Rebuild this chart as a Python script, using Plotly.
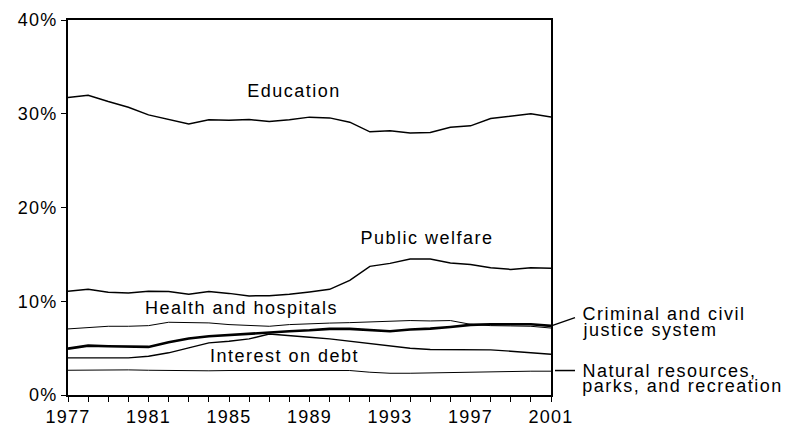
import plotly.graph_objects as go

years = list(range(1977, 2002))
tick_labels = [str(y) if (y - 1977) % 4 == 0 else "" for y in years]

education = [31.72, 31.98, 31.30, 30.70, 29.88, 29.42, 28.92, 29.35, 29.32, 29.38,
             29.17, 29.35, 29.64, 29.56, 29.10, 28.07, 28.18, 27.96, 28.00, 28.57,
             28.71, 29.49, 29.74, 29.99, 29.64]
public_welfare = [11.06, 11.27, 10.95, 10.89, 11.06, 11.03, 10.74, 11.03, 10.84, 10.57,
                  10.60, 10.74, 10.99, 11.27, 12.23, 13.72, 14.04, 14.51, 14.51, 14.08,
                  13.93, 13.58, 13.40, 13.58, 13.51]
health_hospitals = [7.05, 7.16, 7.33, 7.33, 7.40, 7.76, 7.69, 7.69, 7.51, 7.44,
                    7.33, 7.51, 7.62, 7.67, 7.72, 7.80, 7.83, 7.94, 7.90, 7.94,
                    7.54, 7.40, 7.37, 7.33, 7.14]
criminal_justice = [4.95, 5.27, 5.20, 5.17, 5.13, 5.62, 6.02, 6.26, 6.41, 6.52,
                    6.63, 6.80, 6.90, 7.05, 7.05, 6.92, 6.80, 6.98, 7.08, 7.26,
                    7.48, 7.54, 7.58, 7.54, 7.37]
interest_debt = [3.96, 3.96, 3.96, 3.96, 4.13, 4.50, 5.03, 5.56, 5.73, 5.99,
                 6.50, 6.37, 6.16, 5.99, 5.73, 5.52, 5.24, 4.99, 4.85, 4.85,
                 4.85, 4.81, 4.67, 4.53, 4.35]
natural_resources = [2.64, 2.68, 2.72, 2.68, 2.64, 2.61, 2.61, 2.58, 2.61, 2.61,
                     2.61, 2.61, 2.64, 2.64, 2.61, 2.43, 2.32, 2.32, 2.36, 2.40,
                     2.47, 2.54, 2.50, 2.54, 2.54]

y_ticks = [0, 10, 20, 30, 40]
y_tick_labels = ["0%", "10%", "20%", "30%", "40%"]

FONT = "Liberation Sans, Arial, sans-serif"
ANN_SPACING = 1.5  # px letter spacing applied via CSS

series = [
    ("Education", education, 1.5),
    ("Public welfare", public_welfare, 1.5),
    ("Health and hospitals", health_hospitals, 1.0),
    ("Criminal and civil justice system", criminal_justice, 2.6),
    ("Interest on debt", interest_debt, 1.4),
    ("Natural resources, parks, and recreation", natural_resources, 1.0),
]

fig = go.Figure()
for name, vals, w in series:
    fig.add_trace(go.Scatter(x=years, y=vals, mode="lines", name=name,
                             line=dict(color="black", width=w),
                             hoverinfo="skip"))

ann_font = dict(family=FONT, size=18, color="black")

def px2year(px):
    return 1977 + (px - 68) / 20.125

def px2val(py):
    return (395.5 - py) / 9.3875

annotations = [
    dict(text="Education", x=px2year(294), y=px2val(91.5), xref="x", yref="y"),
    dict(text="Public welfare", x=px2year(427), y=px2val(238.5), xref="x", yref="y"),
    dict(text="Health and hospitals", x=px2year(241.5), y=px2val(308.5), xref="x", yref="y"),
    dict(text="Interest on debt", x=px2year(284), y=px2val(356.5), xref="x", yref="y"),
]
for a in annotations:
    a.update(showarrow=False, font=ann_font, xanchor="center", yanchor="middle")

right_labels = [
    ("Criminal and civil", 314.5),
    ("justice system", 330),
    ("Natural resources,", 371),
    ("parks, and recreation", 386.5),
]
for txt, py in right_labels:
    # compensate the CSS letter spacing (text is centred inside its box)
    left_px = 580 + len(txt) * ANN_SPACING / 2
    annotations.append(dict(text=txt, x=(left_px - 68) / 483, y=px2val(py),
                            xref="paper", yref="y",
                            showarrow=False, font=ann_font, xanchor="left",
                            yanchor="middle"))

shapes = [
    dict(type="line", xref="paper", yref="y",
         x0=(552 - 68) / 483, y0=px2val(326), x1=(575 - 68) / 483, y1=px2val(318),
         line=dict(color="black", width=1.5)),
    dict(type="line", xref="paper", yref="y",
         x0=(555 - 68) / 483, y0=px2val(371), x1=(575 - 68) / 483, y1=px2val(371),
         line=dict(color="black", width=1.5)),
]

fig.update_layout(
    width=798, height=427,
    margin=dict(l=68, r=247, t=20, b=31.5, autoexpand=False),
    paper_bgcolor="white", plot_bgcolor="white",
    showlegend=False,
    font=dict(family=FONT, size=18, color="black"),
    annotations=annotations,
    shapes=shapes,
    xaxis=dict(range=[1977, 2001], tickmode="array", tickvals=years, ticktext=tick_labels,
               ticks="outside", ticklen=5, tickwidth=1, tickcolor="black",
               showline=True, linecolor="black", linewidth=1.5, mirror=True,
               showgrid=False, zeroline=False, tickfont=dict(size=18), automargin=False),
    yaxis=dict(range=[0, 40], tickmode="array", tickvals=y_ticks, ticktext=y_tick_labels,
               ticks="outside", ticklen=5, tickwidth=1, tickcolor="black",
               showline=True, linecolor="black", linewidth=1.5, mirror=True,
               showgrid=False, zeroline=False, tickfont=dict(size=18), automargin=False),
)

post = """
var s = document.createElement('style');
s.textContent = 'html,body{margin:0;padding:0;overflow:hidden;} .annotation-text{letter-spacing:%spx;} .xtick text, .ytick text{letter-spacing:1.3px;}';
document.head.appendChild(s);
""" % ANN_SPACING

fig.write_html("out.html", post_script=post, config={"displayModeBar": False})
